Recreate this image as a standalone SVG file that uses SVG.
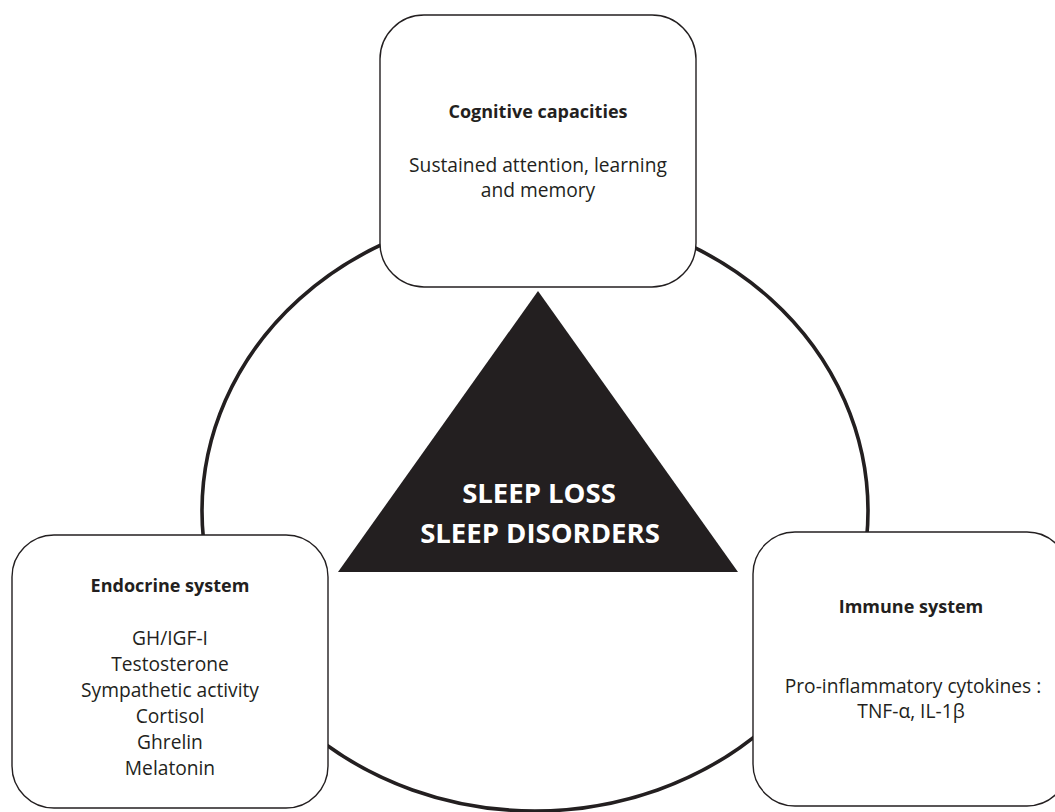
<svg xmlns="http://www.w3.org/2000/svg" width="1055" height="812" viewBox="0 0 1055 812">
<style>
.box{fill:#ffffff;stroke:#231f20;stroke-width:1.4}
.ring{fill:none;stroke:#231f20;stroke-width:3.6}
.t{font-family:"Open Sans","Liberation Sans",sans-serif;font-size:19.2px;fill:#231f20;text-anchor:middle}
.b{font-weight:bold;font-size:18px}
.c{font-family:"Open Sans","Liberation Sans",sans-serif;font-size:27.5px;font-weight:bold;fill:#ffffff;text-anchor:middle}
</style>
<rect width="1055" height="812" fill="#ffffff"/>
<g id="connectors">
<ellipse class="ring" cx="535" cy="511" rx="333" ry="300"/>
</g>
<g id="node-cognitive">
<rect class="box" x="380" y="15" width="316" height="272" rx="44" ry="44"/>
<text class="t b" x="538" y="118">Cognitive capacities</text>
<text class="t" x="538" y="172">Sustained attention, learning</text>
<text class="t" x="538" y="197">and memory</text>
</g>
<g id="node-endocrine">
<rect class="box" x="12" y="535" width="316" height="273" rx="42" ry="42"/>
<text class="t b" x="170" y="592">Endocrine system</text>
<text class="t" x="170" y="645">GH/IGF-I</text>
<text class="t" x="170" y="671">Testosterone</text>
<text class="t" x="170" y="697">Sympathetic activity</text>
<text class="t" x="170" y="723">Cortisol</text>
<text class="t" x="170" y="749">Ghrelin</text>
<text class="t" x="170" y="775">Melatonin</text>
</g>
<g id="node-immune">
<rect class="box" x="753" y="532" width="316" height="274" rx="42" ry="42"/>
<text class="t b" x="911" y="613">Immune system</text>
<text class="t" x="913" y="693">Pro-inflammatory cytokines :</text>
<text class="t" x="911" y="718">TNF-α, IL-1β</text>
</g>
<g id="node-sleep">
<polygon points="538,291 738,572 338,572" fill="#231f20"/>
<text class="c" x="539" y="503">SLEEP LOSS</text>
<text class="c" x="540" y="543">SLEEP DISORDERS</text>
</g>
</svg>
